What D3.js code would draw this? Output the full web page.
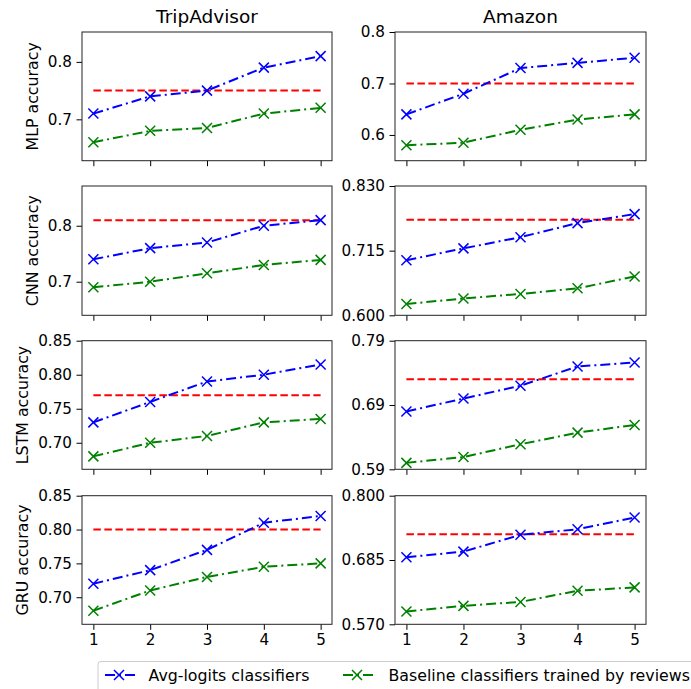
<!DOCTYPE html>
<html>
<head>
<meta charset="utf-8">
<script src="https://cdn.jsdelivr.net/npm/d3@7"></script>
<style>
  html, body { margin: 0; padding: 0; background: #fff; }
  svg { display: block; font-family: "DejaVu Sans", sans-serif; }
</style>
</head>
<body>
<svg id="chart" width="691" height="689"></svg>
<script>
// Number of classifiers combined
const steps = [1, 2, 3, 4, 5];
const datasets = ["TripAdvisor", "Amazon"];
const models = ["MLP", "CNN", "LSTM", "GRU"];

// Avg-logits classifiers (blue), baseline classifiers (green), reference accuracy (red)
const mlpTripAvg = [0.71, 0.74, 0.75, 0.79, 0.81];
const mlpTripBase = [0.66, 0.68, 0.685, 0.71, 0.72];
const mlpTripRef = 0.75;
const mlpAmzAvg = [0.64, 0.68, 0.73, 0.74, 0.75];
const mlpAmzBase = [0.58, 0.585, 0.61, 0.63, 0.64];
const mlpAmzRef = 0.70;

const cnnTripAvg = [0.74, 0.76, 0.77, 0.80, 0.81];
const cnnTripBase = [0.69, 0.70, 0.715, 0.73, 0.739];
const cnnTripRef = 0.81;
const cnnAmzAvg = [0.698, 0.719, 0.739, 0.764, 0.780];
const cnnAmzBase = [0.620, 0.630, 0.638, 0.648, 0.669];
const cnnAmzRef = 0.77;

const lstmTripAvg = [0.73, 0.76, 0.79, 0.80, 0.815];
const lstmTripBase = [0.68, 0.70, 0.71, 0.73, 0.735];
const lstmTripRef = 0.77;
const lstmAmzAvg = [0.68, 0.70, 0.72, 0.75, 0.756];
const lstmAmzBase = [0.60, 0.609, 0.629, 0.647, 0.659];
const lstmAmzRef = 0.73;

const gruTripAvg = [0.72, 0.74, 0.77, 0.81, 0.82];
const gruTripBase = [0.68, 0.71, 0.73, 0.745, 0.75];
const gruTripRef = 0.80;
const gruAmzAvg = [0.69, 0.70, 0.73, 0.74, 0.761];
const gruAmzBase = [0.593, 0.603, 0.61, 0.63, 0.636];
const gruAmzRef = 0.731;

// Y-axis limits and tick labels per panel
const yDomains = [
  [[0.628, 0.852], [0.55, 0.80]],
  [[0.64, 0.871], [0.60, 0.83]],
  [[0.661, 0.85], [0.59, 0.79]],
  [[0.66, 0.85], [0.57, 0.80]]
];
const yTicks = [
  [["0.7", "0.8"], ["0.6", "0.7", "0.8"]],
  [["0.7", "0.8"], ["0.600", "0.715", "0.830"]],
  [["0.70", "0.75", "0.80", "0.85"], ["0.59", "0.69", "0.79"]],
  [["0.70", "0.75", "0.80", "0.85"], ["0.570", "0.685", "0.800"]]
];

const panels = [
  [[mlpTripAvg, mlpTripBase, mlpTripRef], [mlpAmzAvg, mlpAmzBase, mlpAmzRef]],
  [[cnnTripAvg, cnnTripBase, cnnTripRef], [cnnAmzAvg, cnnAmzBase, cnnAmzRef]],
  [[lstmTripAvg, lstmTripBase, lstmTripRef], [lstmAmzAvg, lstmAmzBase, lstmAmzRef]],
  [[gruTripAvg, gruTripBase, gruTripRef], [gruAmzAvg, gruAmzBase, gruAmzRef]]
];

const seriesNames = ["Avg-logits classifiers", "Baseline classifiers trained by reviews"];
const colors = { avg: "#0000ff", base: "#008000", ref: "#ff0000" };

// Layout
const colX = [[82, 332], [395, 646]];
const rowY = [[32, 160.7], [186, 315.3], [340.7, 469.3], [495.7, 624.3]];
const dashDot = "10,4,2,4";
const dashed = "7.5,3.5";
const tickFont = 15.2;
const labelFont = 15.8;
const tickLen = 5.5, tickPad = 4.5;

const svg = d3.select("#chart");

function xMarker(g, x, y, color) {
  const s = 5;
  g.append("path")
    .attr("d", `M${x - s},${y - s}L${x + s},${y + s}M${x - s},${y + s}L${x + s},${y - s}`)
    .attr("stroke", color).attr("stroke-width", 1.5).attr("fill", "none");
}

panels.forEach((row, r) => {
  row.forEach((p, c) => {
    const [x0, x1] = colX[c];
    const [y0, y1] = rowY[r];
    const x = d3.scaleLinear().domain([0.8, 5.2]).range([x0, x1]);
    const y = d3.scaleLinear().domain(yDomains[r][c]).range([y1, y0]);
    const g = svg.append("g");

    const clipId = `clip-${r}-${c}`;
    svg.append("clipPath").attr("id", clipId)
      .append("rect").attr("x", x0).attr("y", y0).attr("width", x1 - x0).attr("height", y1 - y0);

    const plot = g.append("g").attr("clip-path", `url(#${clipId})`);
    const [avg, base, ref] = p;

    // Reference accuracy
    plot.append("line")
      .attr("x1", x(steps[0])).attr("x2", x(steps[steps.length - 1]))
      .attr("y1", y(ref)).attr("y2", y(ref))
      .attr("stroke", colors.ref).attr("stroke-width", 2).attr("stroke-dasharray", dashed);

    const line = d3.line().x((d, i) => x(steps[i])).y(d => y(d));
    [[avg, colors.avg], [base, colors.base]].forEach(([vals, col]) => {
      plot.append("path").attr("d", line(vals))
        .attr("fill", "none").attr("stroke", col).attr("stroke-width", 2)
        .attr("stroke-dasharray", dashDot);
    });
    [[base, colors.base], [avg, colors.avg]].forEach(([vals, col]) => {
      vals.forEach((v, i) => xMarker(g, x(steps[i]), y(v), col));
    });

    // Axes
    const yAx = d3.axisLeft(y)
      .tickValues(yTicks[r][c].map(Number))
      .tickFormat((d, i) => yTicks[r][c][i])
      .tickSize(tickLen).tickPadding(tickPad);
    const xAx = d3.axisBottom(x).tickValues(steps).tickSize(tickLen).tickPadding(tickPad)
      .tickFormat(r === panels.length - 1 ? d3.format("d") : () => "");

    const ya = g.append("g").attr("transform", `translate(${x0},0)`).call(yAx);
    const xa = g.append("g").attr("transform", `translate(0,${y1})`).call(xAx);
    [ya, xa].forEach(a => {
      a.select(".domain").remove();
      a.selectAll("line").attr("stroke", "#000").attr("stroke-width", 1);
      a.selectAll("text").attr("fill", "#000").attr("font-size", tickFont)
        .attr("font-family", "DejaVu Sans, sans-serif");
    });

    g.append("rect").attr("x", x0).attr("y", y0)
      .attr("width", x1 - x0).attr("height", y1 - y0)
      .attr("fill", "none").attr("stroke", "#222").attr("stroke-width", 1);

    if (c === 0) {
      // Place the axis title just left of the widest tick label
      let maxW = 0;
      ya.selectAll("text").each(function () { maxW = Math.max(maxW, this.getBBox().width); });
      const bx = x0 - tickLen - tickPad - maxW - 10;
      svg.append("text")
        .attr("transform", `translate(${bx},${(y0 + y1) / 2}) rotate(-90)`)
        .attr("text-anchor", "middle")
        .attr("font-size", labelFont).attr("fill", "#000")
        .text(`${models[r]} accuracy`);
    }
    if (r === 0) {
      svg.append("text")
        .attr("x", (x0 + x1) / 2).attr("y", 22.5)
        .attr("text-anchor", "middle")
        .attr("font-size", 18.5).attr("fill", "#000")
        .text(datasets[c]);
    }
  });
});

// Legend
const lg = svg.append("g");
lg.append("rect").attr("x", 98).attr("y", 661.5).attr("width", 620).attr("height", 36)
  .attr("rx", 3).attr("fill", "#fff").attr("stroke", "#cccccc").attr("stroke-width", 1);
const legendItems = [
  { name: seriesNames[0], color: colors.avg, x: 105, tx: 148.5 },
  { name: seriesNames[1], color: colors.base, x: 343, tx: 388.5 }
];
legendItems.forEach(it => {
  const ly = 675;
  lg.append("line").attr("x1", it.x).attr("x2", it.x + 31).attr("y1", ly).attr("y2", ly)
    .attr("stroke", it.color).attr("stroke-width", 2).attr("stroke-dasharray", dashDot);
  xMarker(lg, it.x + 14, ly, it.color);
  lg.append("text").attr("x", it.tx).attr("y", ly).attr("dy", "0.35em")
    .attr("font-size", labelFont).attr("fill", "#000").text(it.name);
});
</script>
</body>
</html>
